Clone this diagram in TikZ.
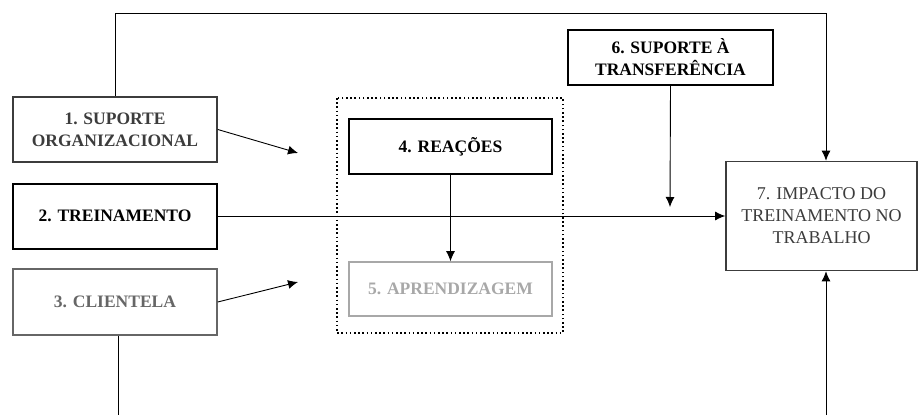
\documentclass[tikz,border=0pt]{standalone}
\usepackage{fontspec}
\setmainfont{Liberation Serif}
\usetikzlibrary{arrows.meta}
\definecolor{dkgray}{HTML}{3C3C3C}
\definecolor{mdgray}{HTML}{666666}
\definecolor{ltgray}{HTML}{A8A8A8}
\begin{document}
\begin{tikzpicture}[x=1pt, y=-1pt, >={Latex[length=10pt,width=9pt]},
  box/.style={draw, line width=2pt, align=center, inner sep=2pt,
    font=\fontsize{17.5}{22}\selectfont\bfseries},
  thinbox/.style={box, line width=1.6pt},
  link/.style={line width=0.9pt}]
\useasboundingbox (0,0) rectangle (918,415);
\clip (0,0) rectangle (918,415);

\node[thinbox, draw=dkgray, text=dkgray, minimum width=204pt, minimum height=65pt] (sup) at (115,129.5) {1. SUPORTE\\ORGANIZACIONAL};
\node[box, minimum width=204pt, minimum height=65pt] (trein) at (115,216) {2. TREINAMENTO};
\node[thinbox, draw=mdgray, text=mdgray, minimum width=204pt, minimum height=66pt] (cli) at (115,302) {3. CLIENTELA};
\draw[line width=1.5pt, dash pattern=on 1.6pt off 2.6pt] (337,98) rectangle (563,333);
\node[box, minimum width=203pt, minimum height=55pt] (reac) at (450.5,146.5) {4. REAÇÕES};
\node[thinbox, draw=ltgray, text=ltgray, minimum width=203pt, minimum height=54pt] (apr) at (450.5,289) {5. APRENDIZAGEM};
\node[box, minimum width=205pt, minimum height=55pt] (suptr) at (670.5,57.5) {6. SUPORTE À\\TRANSFERÊNCIA};
\node[thinbox, draw=dkgray, text=dkgray, font=\fontsize{18}{22}\selectfont, minimum width=191pt, minimum height=109pt] (imp) at (821.5,216) {7. IMPACTO DO\\TREINAMENTO NO\\TRABALHO};

\coordinate (e1) at (298,153);
\coordinate (e3) at (298,282);
\coordinate (e6) at (670,207);
\coordinate (top) at (826,13);
\coordinate (bl) at (118,415);
\coordinate (br) at (826,415);

\draw[link,->] (sup.east) -- (e1);
\draw[link,->] (cli.east) -- (e3);
\draw[link,->] (trein.east) -- (trein.east -| imp.west);
\draw[link,->] (reac.south) -- (apr.north);
\draw[link,->] (suptr.south) -- (e6);
\draw[link,->] (sup.north) |- (top) -- (top |- imp.north);
\draw[link] (cli.south -| bl) -- (bl);
\draw[link,->] (br) -- (br |- imp.south);
\end{tikzpicture}
\end{document}
